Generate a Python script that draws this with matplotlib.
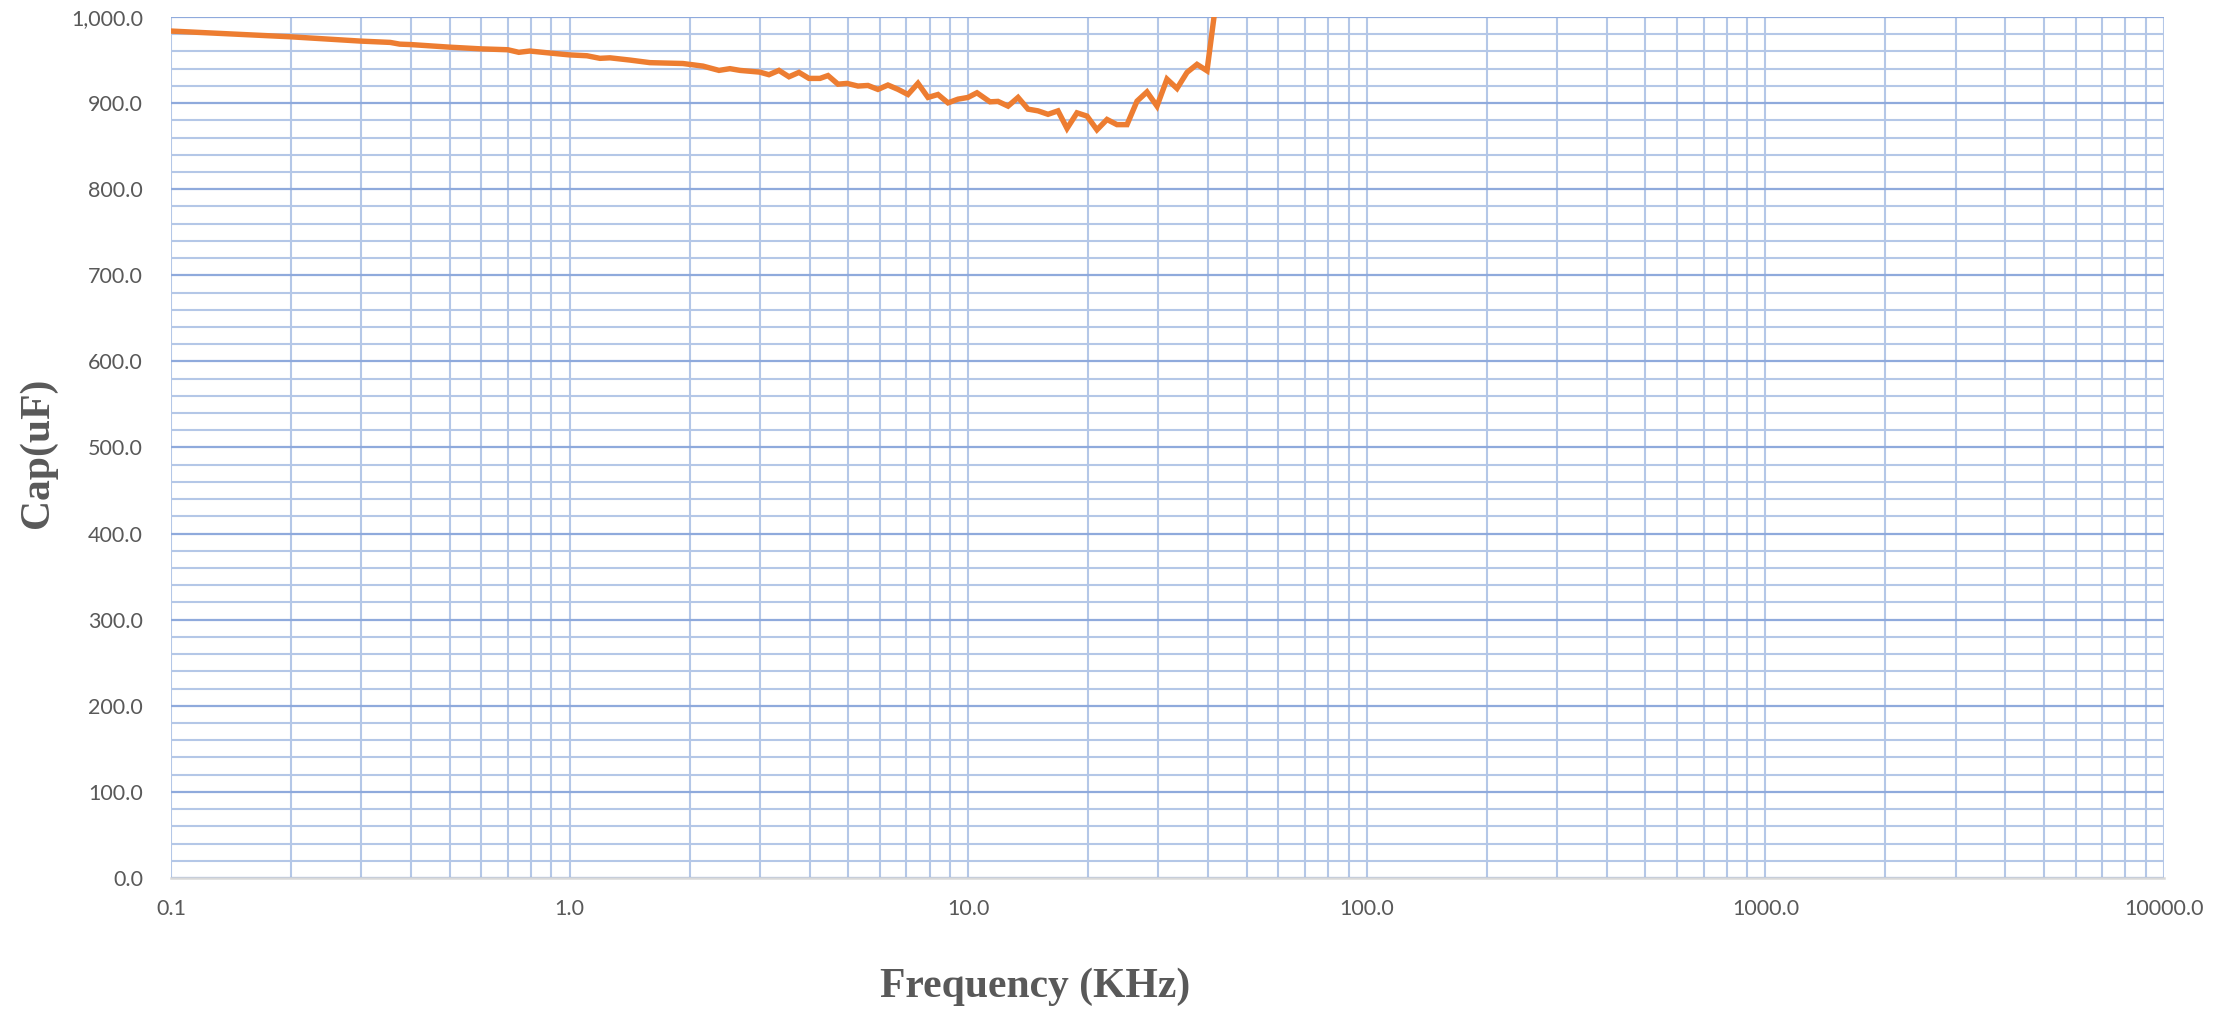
"""
Capacitance vs frequency sweep, redrawn in the style of an Excel log chart.
"""
import matplotlib

matplotlib.use("Agg")
import matplotlib.pyplot as plt
from matplotlib.ticker import FixedLocator, FuncFormatter, LogLocator, MultipleLocator

# sweep readings (KHz, uF)
freq_khz = [
    0.1, 0.2, 0.3, 0.355, 0.375, 0.4, 0.5, 0.6, 0.7, 0.746, 0.795, 0.9,
    1.0, 1.106, 1.192, 1.263, 1.417, 1.591, 1.925, 2.161, 2.371, 2.526,
    2.677, 3.0, 3.164, 3.352, 3.552, 3.763, 3.987, 4.249, 4.45, 4.714,
    4.967, 5.291, 5.606, 5.938, 6.291, 6.666, 7.063, 7.483, 7.929, 8.4,
    8.9, 9.428, 9.99, 10.52, 11.34, 11.88, 12.59, 13.34, 14.13, 14.97,
    15.86, 16.8, 17.7, 18.75, 19.87, 21.04, 22.3, 23.62, 25.03, 26.52,
    28.09, 29.76, 31.53, 33.41, 35.4, 37.5, 39.73, 44.86,
]
cap_uf = [
    983.7, 977.0, 972.0, 970.5, 968.5, 968.0, 965.0, 963.0, 962.0, 959.0, 960.5, 958.0,
    956.0, 955.0, 952.0, 952.6, 950.0, 947.0, 946.0, 943.0, 938.0, 940.0,
    938.0, 936.0, 933.0, 938.0, 930.6, 935.7, 928.7, 928.7, 932.0, 922.0,
    922.9, 919.8, 920.5, 915.9, 921.0, 916.0, 910.0, 923.0, 906.6, 910.0,
    900.3, 904.6, 906.6, 912.0, 901.5, 902.0, 896.5, 906.6, 893.0, 891.0,
    887.0, 891.0, 870.6, 888.7, 884.9, 869.0, 881.0, 875.0, 875.0, 902.3,
    913.0, 896.5, 927.9, 917.0, 935.7, 945.0, 937.6, 1125.0,
]
x_ticks = [0.1, 1.0, 10.0, 100.0, 1000.0, 10000.0]

GRID_MINOR = "#B4C7E7"
GRID_MAJOR = "#8FAADC"
TEXT = "#595959"
LINE = "#ED7D31"

plt.rcParams["font.family"] = ["Lato", "DejaVu Sans"]

fig = plt.figure(figsize=(22.34, 10.13), dpi=100)
ax = fig.add_axes([0.0765, 0.1333, 0.8922, 0.8499])

ax.plot(freq_khz, cap_uf, color=LINE, lw=3.9, solid_joinstyle="miter", zorder=3)

ax.set_xscale("log")
ax.set_xlim(0.1, 10000)
ax.set_ylim(0, 1000)

ax.xaxis.set_major_locator(FixedLocator(x_ticks))
ax.xaxis.set_minor_locator(LogLocator(base=10, subs=range(2, 10), numticks=50))
ax.xaxis.set_major_formatter(FuncFormatter(lambda v, _: f"{v:.1f}"))
ax.xaxis.set_minor_formatter(FuncFormatter(lambda v, _: ""))
ax.yaxis.set_major_locator(MultipleLocator(100))
ax.yaxis.set_minor_locator(MultipleLocator(20))
ax.yaxis.set_major_formatter(FuncFormatter(lambda v, _: f"{v:,.1f}"))

ax.grid(True, axis="x", which="both", color=GRID_MINOR, lw=1.5, zorder=1)
ax.grid(True, axis="y", which="minor", color=GRID_MINOR, lw=1.5, zorder=1)
ax.grid(True, axis="y", which="major", color=GRID_MAJOR, lw=1.6, zorder=1)
ax.set_axisbelow(True)

for side in ("top", "left", "right"):
    ax.spines[side].set_visible(False)
ax.spines["bottom"].set_color("#D9D9D9")
ax.spines["bottom"].set_linewidth(1.8)
ax.spines["bottom"].set_zorder(2)

ax.tick_params(axis="both", which="both", length=0, labelsize=15.5, labelcolor=TEXT)
ax.tick_params(axis="y", pad=20)
ax.tick_params(axis="x", pad=15)

fig.text(0.4633, 0.026, "Frequency (KHz)", ha="center", va="center",
         fontsize=30, fontweight="bold", color=TEXT, family="Liberation Serif")
fig.text(0.017, 0.553, "Cap(uF)", ha="center", va="center", rotation=90,
         fontsize=30, fontweight="bold", color=TEXT, family="Liberation Serif")

fig.savefig("out.png", dpi=100)
